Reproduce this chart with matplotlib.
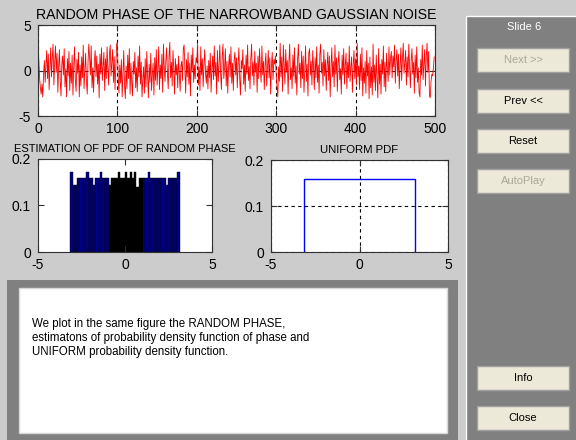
import numpy as np
import matplotlib
matplotlib.use("Agg")
import matplotlib.pyplot as plt
from matplotlib.patches import Rectangle

plt.rcParams['font.family'] = ['Liberation Sans', 'DejaVu Sans']
plt.rcParams['axes.unicode_minus'] = False

# random phase samples (500 points)
fase = [
    2.8, 1.2, -0.8, -1.9, -2.6, -1.5, -2.9, -0.4, 1.1, -1.3, 0.6, 2.2, -0.9, 1.8, -2.1, 0.3, 2.5, -0.7, 1.4, 2.9, -1.6, 0.9, 2.7, -0.2, 1.9,
    -2.4, 0.5, 2.3, -1.1, -2.8, 0.7, 1.6, -0.5, 2.4, -1.8, 0.2, -2.9, 1.3, -0.6, 2.1, -2.2, 0.8, -1.4, 1.7, -2.7, 0.4, 2.6, -1.0, -2.3, 1.2,
    -0.3, 2.0, -2.9, 0.6, -1.7, 1.5, -0.8, 2.8, -2.0, 0.1, 1.9, -1.2, -2.6, 0.9, 2.9, 1.4, -0.5, 2.7, -1.9, 0.3, -2.4, 1.1, 2.2, -0.7, 1.6,
    -1.5, 0.7, -3.0, 1.8, -0.4, 2.5, -1.1, 0.5, 2.0, -2.2, 1.3, -0.9, 2.6, 0.2, -1.6, 1.9, 2.8, -0.6, 0.9, 2.3, -1.3, 1.5, -2.1, 0.4, 2.9,
    3.1, -0.8, -2.5, 0.6, -1.4, 1.2, -2.9, -0.3, 2.2, -1.7, -3.1, 0.5, -2.0, 1.7, -0.9, 2.4, -2.6, 0.8, -1.2, -2.8, 1.0, -0.4, 2.0, -1.9, 0.3,
    -2.3, 1.6, -0.7, 2.7, -1.5, 0.9, -2.9, -1.0, 0.4, -2.5, 1.3, -1.8, 2.1, -0.6, -3.0, 0.7, -1.3, 1.9, -2.2, -0.5, 0.8, -2.7, 1.4, -1.1, 2.3,
    -1.6, 0.2, 2.6, -2.1, 0.6, -0.9, 1.8, -2.4, 2.9, 0.4, -1.2, 1.1, 2.5, -0.3, -2.0, 1.5, 3.1, -0.8, 0.9, -1.7, 2.2, 0.1, -2.6, 1.3, -0.5,
    0.7, -1.9, 1.6, -0.4, -2.3, 0.5, 1.0, -1.1, 2.4, 2.8, 0.3, -2.5, 1.2, -0.7, 2.0, -1.5, 0.8, -2.8, 1.7, -0.2, 2.5, -1.3, 0.6, -0.9, 1.4,
    0.9, 3.0, -1.6, 0.4, -2.2, 2.6, -0.5, 1.3, -1.8, 0.7, 2.3, -0.3, -1.4, 0.5, -2.0, 1.1, -0.8, 1.9, -2.4, 0.2, 1.6, -1.0, 2.7, -0.6, 0.9,
    -2.6, 2.2, -1.2, 0.6, 2.8, -0.4, -2.1, 1.5, 2.9, -0.9, 0.3, 2.4, -1.7, 1.0, -2.5, 0.5, 1.8, -0.7, 2.6, -1.4, 0.8, -2.2, 1.2, 2.0, -0.5,
    1.4, -1.9, 0.7, 2.5, -0.8, -2.7, 1.1, 0.2, 2.3, -1.5, 0.6, -2.3, 1.7, -0.4, 2.8, -1.1, 0.4, -2.0, 1.3, 2.9, -0.6, 0.9, -1.6, 2.1, -0.2,
    0.8, -2.4, 1.6, -0.9, 2.4, 0.3, -1.3, 2.7, -0.5, 1.0, -2.1, 0.6, 1.9, -1.7, 0.2, 2.2, -0.8, 1.4, -2.6, 0.5, 2.0, -1.0, 1.2, 0.7, 1.6,
    -0.3, -1.8, -2.9, 0.4, -1.2, 3.0, -0.7, 1.5, -2.3, 2.8, 0.6, -1.5, 2.3, -0.2, 1.1, -2.6, 0.9, 2.9, -1.0, 0.3, -2.0, 1.7, -0.6, 2.5, -1.4,
    0.5, -2.7, 1.3, 2.9, -0.4, 0.8, -1.9, 2.1, -0.9, 1.6, -2.4, 0.2, 2.7, -1.2, 0.7, -2.8, 1.9, 2.4, -0.5, 1.0, -1.6, 2.2, 0.4, -2.1, 1.4,
    -0.8, 2.6, -1.3, 0.6, -2.5, 1.8, 2.9, -0.3, 0.9, -1.7, 2.3, -0.6, 1.2, -2.2, 0.5, 2.0, -1.1, 1.6, -2.9, 0.3, 2.5, -0.7, 1.0, -1.8, 2.8,
    -0.4, 1.4, -2.3, 0.8, 2.1, -1.0, 0.2, -2.6, 1.7, -0.5, 2.4, -1.5, 0.6, 1.9, -2.0, 0.9, -0.8, 2.7, -1.2, 0.4, 1.5, -2.4, 0.7, 2.2, -0.9,
    1.3, -1.6, 3.0, -0.7, 0.5, -2.1, 1.8, -1.1, 2.5, -2.8, 0.3, -1.4, 1.0, -2.5, 2.2, -0.6, 0.8, -3.1, 1.5, -1.9, 0.4, -2.7, 2.9, -1.3, 0.6,
    -2.2, 1.7, -0.9, -3.0, 2.4, -1.5, 0.7, -2.6, 1.2, -0.4, 2.7, -1.8, 0.9, -2.3, 1.9, 0.2, -1.2, 2.6, -0.5, 1.4, 2.1, -0.8, 1.6, 0.4, 2.8,
    -1.4, 1.0, 2.3, -0.6, 1.8, -2.0, 0.5, 2.5, -1.1, 1.3, 3.0, -0.3, 0.8, 2.2, -1.6, 1.5, -0.7, 2.9, 0.6, -1.9, 1.1, 2.4, -0.4, 0.9, -2.5,
    1.7, -0.8, 2.6, -1.3, 0.3, -2.4, -2.9, 1.2, -0.5, 2.8, -1.0, 0.7, 2.3, -1.7, 1.5, 3.0, -0.2, 2.1, -2.8, -3.0, -1.2, -0.4, -0.6, 0.3, 1.5,
]

# histogram estimate of pdf, 48 bins between -pi and pi
pdf_est = [
    0.173, 0.144, 0.144, 0.160, 0.160, 0.160, 0.160, 0.173, 0.160, 0.160,
    0.144, 0.160, 0.160, 0.173, 0.160, 0.160, 0.160, 0.144, 0.160, 0.160,
    0.160, 0.173, 0.160, 0.160, 0.173, 0.160, 0.173, 0.160, 0.173, 0.140,
    0.160, 0.160, 0.160, 0.160, 0.173, 0.160, 0.160, 0.160, 0.160, 0.160,
    0.160, 0.160, 0.144, 0.160, 0.160, 0.160, 0.160, 0.173,
]
unif_x = [-np.pi, -np.pi, np.pi, np.pi]
unif_y = [0, 1 / (2 * np.pi), 1 / (2 * np.pi), 0]

texto = ["We plot in the same figure the RANDOM PHASE,",
         "estimatons of probability density function of phase and",
         "UNIFORM probability density function."]
botones = ["Next >>", "Prev <<", "Reset", "AutoPlay", "Info", "Close"]
activos = [False, True, True, False, True, True]
boton_y = [48, 89, 129, 169, 366, 406]

W, H = 576, 440
fig = plt.figure(figsize=(W / 100, H / 100), dpi=100, facecolor='#cccccc')

# fondo tipo GUI de MATLAB, en pixeles
bg = fig.add_axes([0, 0, 1, 1])
bg.set_xlim(0, W)
bg.set_ylim(H, 0)
bg.axis('off')
bg.add_patch(Rectangle((466, 16), 112, 430, fc='#808080', ec='white', lw=1))
bg.add_patch(Rectangle((7, 280), 451, 165, fc='#808080', ec='none'))
bg.add_patch(Rectangle((19, 288), 428, 145, fc='white', ec='#d8d8d8', lw=1))
bg.text(524, 27, "Slide 6", ha='center', va='center', fontsize=8, color='white')
for nombre, activo, y in zip(botones, activos, boton_y):
    bg.add_patch(Rectangle((477, y), 92, 24, fc='#ece9d8', ec='#a0a0a0', lw=1))
    bg.text(523, y + 12, nombre, ha='center', va='center', fontsize=8,
            color='black' if activo else '#aca899')
for i, linea in enumerate(texto):
    bg.text(32, 324 + i * 14, linea, ha='left', va='center', fontsize=8.3)


def estilo(ax):
    ax.set_facecolor('white')
    ax.tick_params(direction='in', top=True, right=True, length=4,
                   labelsize=10, color='#303030')
    ax.tick_params(axis='x', pad=4)
    ax.tick_params(axis='y', pad=5)
    for s in ax.spines.values():
        s.set_color('#303030')
        s.set_linewidth(0.8)


def pos(x0, y0, x1, y1):
    return [x0 / W, 1 - y1 / H, (x1 - x0) / W, (y1 - y0) / H]


# senal de fase
ax1 = fig.add_axes(pos(38, 25, 435, 116))
ax1.plot(np.arange(len(fase)), fase, color='red', lw=0.6)
ax1.set_xlim(0, 500)
ax1.set_ylim(-5, 5)
ax1.set_xticks([0, 100, 200, 300, 400, 500])
ax1.set_yticks([-5, 0, 5])
ax1.grid(True, color='black', ls=(0, (3, 3)), lw=0.8)
estilo(ax1)
ax1.set_title("RANDOM PHASE OF THE NARROWBAND GAUSSIAN NOISE", fontsize=10.2, pad=4)

# histograma
ax2 = fig.add_axes(pos(38, 159, 212, 252))
bordes = np.linspace(-np.pi, np.pi, len(pdf_est) + 1)
ancho = bordes[1] - bordes[0]
centros = bordes[:-1] + ancho / 2
colores = ['black' if -0.9 < c < 1.1 else '#00008f' for c in centros]
ax2.bar(bordes[:-1], pdf_est, width=ancho, align='edge', color=colores,
        edgecolor='black', linewidth=0.3)
ax2.set_xlim(-5, 5)
ax2.set_ylim(0, 0.2)
ax2.set_xticks([-5, 0, 5])
ax2.set_yticks([0, 0.1, 0.2])
ax2.set_yticklabels(['0', '0.1', '0.2'])
estilo(ax2)
ax2.set_title("ESTIMATION OF PDF OF RANDOM PHASE", fontsize=8, pad=5)

# pdf uniforme
ax3 = fig.add_axes(pos(271, 160, 448, 252))
ax3.plot(unif_x, unif_y, color='blue', lw=1)
ax3.set_xlim(-5, 5)
ax3.set_ylim(0, 0.2)
ax3.set_xticks([-5, 0, 5])
ax3.set_yticks([0, 0.1, 0.2])
ax3.set_yticklabels(['0', '0.1', '0.2'])
ax3.grid(True, color='black', ls=(0, (3, 3)), lw=0.8)
estilo(ax3)
ax3.set_title("UNIFORM PDF", fontsize=8.2, pad=5)

fig.savefig("out.png", dpi=100, facecolor=fig.get_facecolor())
